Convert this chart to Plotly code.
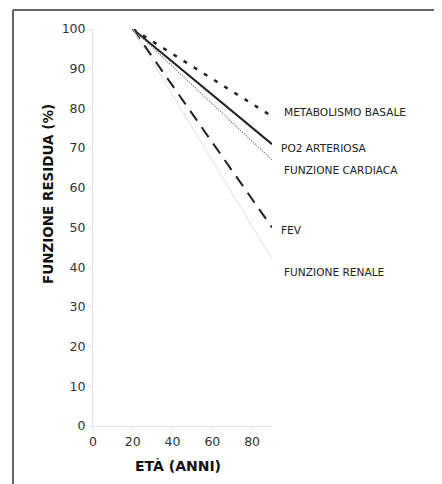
import plotly.graph_objects as go

# Data
series_names = ["METABOLISMO BASALE", "PO2 ARTERIOSA", "FUNZIONE CARDIACA", "FEV", "FUNZIONE RENALE"]
age = [20, 90]
metabolismo = [100, 78]
po2 = [100, 71]
cardiaca = [100, 67]
fev = [100, 50]
renale = [100, 42]
label_y = [79.2, 70.0, 64.5, 49.4, 38.9]
x_ticks = [0, 20, 40, 60, 80]
y_ticks = [0, 10, 20, 30, 40, 50, 60, 70, 80, 90, 100]

values = [metabolismo, po2, cardiaca, fev, renale]
styles = [
    dict(color="#222222", width=2.5, dash="4px,8px"),
    dict(color="#222222", width=2, dash="solid"),
    dict(color="#666666", width=1.2, dash="1px,1.5px"),
    dict(color="#222222", width=2, dash="12px,8px"),
    dict(color="#dddddd", width=1, dash="solid"),
]

fig = go.Figure()
for name, vals, st in zip(series_names, values, styles):
    fig.add_trace(go.Scatter(x=age, y=vals, mode="lines", name=name, line=st,
                             showlegend=False, hoverinfo="skip"))

# page offset (browser body margin) compensation
OFF = 8
W, H = 442 - OFF, 484 - OFF
ml, mt = 93 - OFF, 29 - OFF
pw, ph = 179, 397
mr, mb = W - ml - pw, H - mt - ph

def px_to_paper_x(px):
    return (px - OFF - ml) / pw

def px_to_paper_y(py):
    return (mt + ph - (py - OFF)) / ph

X_RANGE = [0, 90]
Y_RANGE = [0, 100]

def data_to_paper_x(v):
    return (v - X_RANGE[0]) / (X_RANGE[1] - X_RANGE[0])

def data_to_paper_y(v):
    return (v - Y_RANGE[0]) / (Y_RANGE[1] - Y_RANGE[0])

label_font = dict(family="DejaVu Sans, Verdana, sans-serif", size=10.6, color="#222222")
label_x = [94.8, 93.6, 94.8, 93.6, 94.8]
for name, lx, ly in zip(series_names, label_x, label_y):
    fig.add_annotation(x=data_to_paper_x(lx), y=data_to_paper_y(ly), xref="paper", yref="paper",
                       text=name, showarrow=False,
                       xanchor="left", yanchor="middle", font=label_font)

# Axis titles as annotations
fig.add_annotation(x=px_to_paper_x(48), y=px_to_paper_y(194), xref="paper", yref="paper",
                   text="<b>FUNZIONE RESIDUA (%)</b>", showarrow=False, textangle=-90,
                   xanchor="center", yanchor="middle",
                   font=dict(family="DejaVu Sans, sans-serif", size=13.5, color="#111111"))
fig.add_annotation(x=px_to_paper_x(178), y=px_to_paper_y(466), xref="paper", yref="paper",
                   text="<b>ETÀ (ANNI)</b>", showarrow=False,
                   xanchor="center", yanchor="middle",
                   font=dict(family="DejaVu Sans, sans-serif", size=14, color="#111111"))

# Frame lines (cropped box: top and left)
bx, by = px_to_paper_x(13), px_to_paper_y(10)
fig.add_shape(type="line", xref="paper", yref="paper", x0=bx, x1=bx, y0=by,
              y1=px_to_paper_y(500), line=dict(color="#333333", width=1.5))
fig.add_shape(type="line", xref="paper", yref="paper", x0=bx, x1=px_to_paper_x(460),
              y0=by, y1=by, line=dict(color="#333333", width=1.5))

tick_font = dict(family="DejaVu Sans, Verdana, sans-serif", size=12.5, color="#333333")
fig.update_layout(
    width=W, height=H,
    margin=dict(l=ml, r=mr, t=mt, b=mb),
    paper_bgcolor="white", plot_bgcolor="white",
    xaxis=dict(range=X_RANGE, tickvals=x_ticks, showgrid=False, zeroline=False,
               showline=True, linecolor="#e6e6e6", linewidth=1,
               ticks="outside", ticklen=4, tickcolor="#e6e6e6",
               tickfont=tick_font, fixedrange=True),
    yaxis=dict(range=Y_RANGE, tickvals=y_ticks, showgrid=False, zeroline=False,
               showline=True, linecolor="#e6e6e6", linewidth=1,
               ticks="outside", ticklen=4, tickcolor="#e6e6e6",
               tickfont=tick_font, fixedrange=True),
)

fig.write_html("out.html")
